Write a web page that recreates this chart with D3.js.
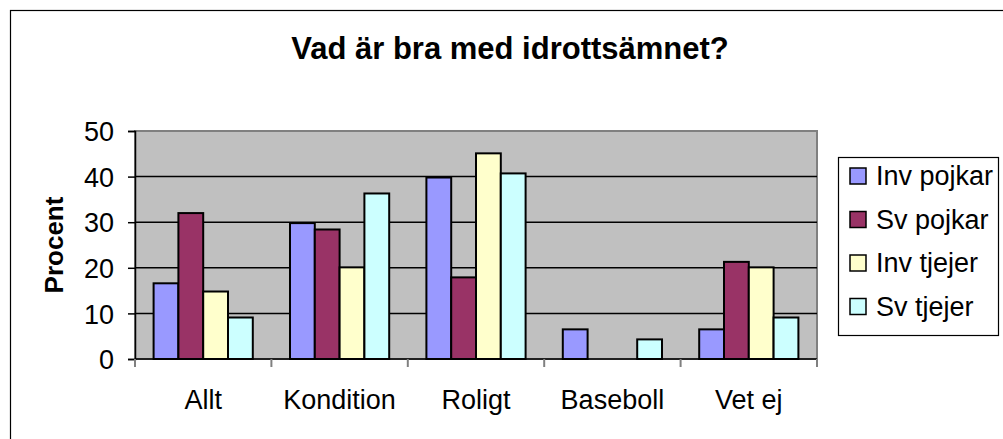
<!DOCTYPE html>
<html><head><meta charset="utf-8">
<script src="https://cdn.jsdelivr.net/npm/d3@7"></script>
<style>body{margin:0;background:#fff}svg{display:block;font-family:"Liberation Sans",Arial,sans-serif}</style>
</head><body><svg id="c" width="1003" height="439"></svg>
<script>
const categories = ["Allt","Kondition","Roligt","Baseboll","Vet ej"];
const seriesNames = ["Inv pojkar","Sv pojkar","Inv tjejer","Sv tjejer"];
const invPojkar = [16.6, 29.8, 39.8, 6.5, 6.5];
const svPojkar  = [32.0, 28.4, 17.9, 0, 21.3];
const invTjejer = [14.8, 20.1, 45.1, 0, 20.1];
const svTjejer  = [9.1, 36.3, 40.7, 4.3, 9.1];
const yTicks = [0,10,20,30,40,50];
const colors = ["#9999FF","#993366","#FFFFCC","#CCFFFF"];
const seriesValues = [invPojkar, svPojkar, invTjejer, svTjejer];

const svg = d3.select("#c");
svg.append("rect").attr("x",10.5).attr("y",10.5).attr("width",1010).attr("height",450)
  .attr("fill","#fff").attr("stroke","#000").attr("stroke-width",1.2);

const L=135, R=817, T=131, B=359;
const x = d3.scaleBand().domain(categories).range([L,R]);
// Excel gap width 150%: 4 bars + 1.5 bar widths of gap per category
const inner = d3.scaleBand().domain(seriesNames).range([0,x.bandwidth()]).paddingInner(0).paddingOuter(0.75);
const y = d3.scaleLinear().domain([0,50]).range([B,T]);

svg.append("rect").attr("x",L).attr("y",T).attr("width",R-L).attr("height",B-T)
  .attr("fill","#C0C0C0").attr("stroke","#808080").attr("stroke-width",2);

svg.append("g").selectAll("line").data(yTicks.filter(d=>d>0 && d<50)).join("line")
  .attr("x1",L).attr("x2",R).attr("y1",d=>y(d)).attr("y2",d=>y(d))
  .attr("stroke","#000").attr("stroke-width",1.5);

const g = svg.append("g");
categories.forEach((c,ci)=>{
  seriesNames.forEach((s,si)=>{
    const v = seriesValues[si][ci];
    if(!v) return;
    g.append("rect").attr("x",x(c)+inner(s)).attr("y",y(v))
      .attr("width",inner.bandwidth()).attr("height",y(0)-y(v))
      .attr("fill",colors[si]).attr("stroke","#000").attr("stroke-width",2);
  });
});

// y axis
const ya = svg.append("g").attr("transform",`translate(${L},0)`)
  .call(d3.axisLeft(y).tickValues(yTicks).tickSize(7).tickPadding(14));
ya.select(".domain").attr("stroke","#000").attr("stroke-width",1.5);
ya.selectAll(".tick line").attr("stroke","#000").attr("stroke-width",1.5);
ya.selectAll("text").attr("font-size",27).attr("fill","#000").attr("dy","0.36em")
  .attr("font-family","Liberation Sans, Arial, sans-serif");

// x axis
const xa = svg.append("g").attr("transform",`translate(0,${B})`);
xa.append("line").attr("x1",L).attr("x2",R).attr("stroke","#000").attr("stroke-width",1.5);
const bounds = categories.map(c=>x(c)).concat([x.range()[1]]);
xa.selectAll("line.t").data(bounds).join("line").attr("class","t")
  .attr("x1",d=>d).attr("x2",d=>d).attr("y1",0).attr("y2",8).attr("stroke","#808080").attr("stroke-width",2);
xa.selectAll("text").data(categories).join("text")
  .attr("x",d=>x(d)+x.bandwidth()/2).attr("y",50).attr("text-anchor","middle")
  .attr("font-size",27).text(d=>d);

svg.append("text").attr("transform","translate(63,245) rotate(-90)").attr("text-anchor","middle")
  .attr("font-size",26).attr("font-weight","bold").text("Procent");

svg.append("text").attr("x",510).attr("y",59).attr("text-anchor","middle")
  .attr("font-size",31).attr("font-weight","bold").text("Vad är bra med idrottsämnet?");

// legend
const lg = svg.append("g");
lg.append("rect").attr("x",838.5).attr("y",157.5).attr("width",160).attr("height",178)
  .attr("fill","#fff").attr("stroke","#000").attr("stroke-width",1.2);
seriesNames.forEach((s,i)=>{
  const base = 185 + i*43.5;
  lg.append("rect").attr("x",850).attr("y",base-17).attr("width",16).attr("height",16)
    .attr("fill",colors[i]).attr("stroke","#000").attr("stroke-width",1.5);
  lg.append("text").attr("x",876).attr("y",base).attr("font-size",27).text(s);
});
</script></body></html>
